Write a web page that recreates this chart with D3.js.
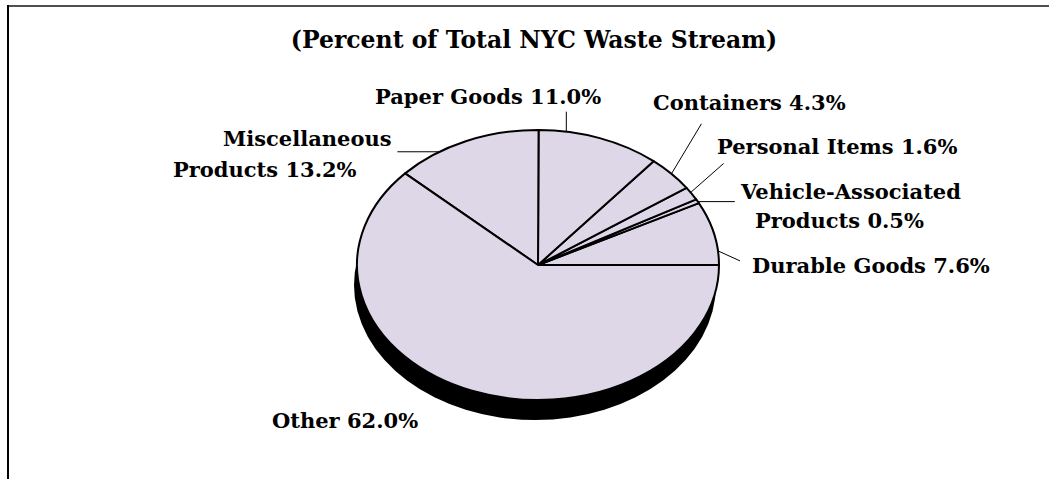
<!DOCTYPE html>
<html>
<head>
<meta charset="utf-8">
<script src="https://cdn.jsdelivr.net/npm/d3@7"></script>
<style>
  body { margin: 0; background: #fff; }
  text { font-family: "DejaVu Serif", serif; font-weight: bold; fill: #000; }
</style>
</head>
<body>
<div id="chart"></div>
<script>
var width = 1049, height = 479;

// slices, counter-clockwise from 3 o'clock
var categories = ["Durable Goods", "Vehicle-Associated Products", "Personal Items",
                  "Containers", "Paper Goods", "Miscellaneous Products", "Other"];
var shares = [7.6, 0.5, 1.6, 4.3, 11.0, 13.2, 62.0];
var labelLines = [["Durable Goods 7.6%"], ["Vehicle-Associated", "Products 0.5%"],
                  ["Personal Items 1.6%"], ["Containers 4.3%"], ["Paper Goods 11.0%"],
                  ["Miscellaneous", "Products 13.2%"], ["Other 62.0%"]];
var title = "(Percent of Total NYC Waste Stream)";

// label placement: where the leader touches the rim (deg), leader vector, text lines
var leaderAngle = [6, 28, 32.5, 42.5, 81, 123, null];
var leaderVec = [[22, 10], [37, 0], [33, -29], [30, -50], [0, -20], [-42, 0], null];
var labelPos = [[[752, 273]], [[741, 199], [755, 228]], [[717, 154]], [[653, 110]],
                [[375, 104]], [[223, 146], [173, 177]], [[272, 428]]];

var cx = 538, cy = 265, rx = 181, ry = 135, depth = 20;

var svg = d3.select("#chart").append("svg")
  .attr("width", width).attr("height", height);

// frame
svg.append("line").attr("x1", 7).attr("x2", 1049).attr("y1", 6).attr("y2", 6)
  .attr("stroke", "#505050").attr("stroke-width", 2);
svg.append("line").attr("x1", 8).attr("x2", 8).attr("y1", 5).attr("y2", height)
  .attr("stroke", "#000").attr("stroke-width", 2);

svg.append("text")
  .attr("x", 534).attr("y", 48)
  .attr("text-anchor", "middle")
  .style("font-size", "23.5px")
  .text(title);

var data = categories.map(function(c, i) { return {name: c, value: shares[i], i: i}; });

var pie = d3.pie()
  .sort(null)
  .value(function(d) { return d.value; })
  .startAngle(Math.PI / 2)
  .endAngle(Math.PI / 2 - 2 * Math.PI);

var arc = d3.arc().innerRadius(0).outerRadius(rx);

// tilt: circle squashed into an ellipse
var k = ry / rx;

// side wall of the disc
svg.append("ellipse")
  .attr("cx", cx - 3).attr("cy", cy + depth)
  .attr("rx", rx).attr("ry", ry)
  .attr("fill", "#000");

var face = svg.append("g")
  .attr("transform", "translate(" + cx + "," + cy + ") scale(1," + k + ")");

face.selectAll("path")
  .data(pie(data))
  .enter().append("path")
    .attr("d", arc)
    .attr("fill", "#ddd7e8")
    .attr("stroke", "#000")
    .attr("stroke-width", 2)
    .attr("stroke-linejoin", "round")
    .attr("vector-effect", "non-scaling-stroke");

// point on the rim for an angle measured counter-clockwise from 3 o'clock
function rim(deg) {
  var a = deg * Math.PI / 180;
  return [cx + rx * Math.cos(a), cy - ry * Math.sin(a)];
}

data.forEach(function(d, i) {
  if (leaderAngle[i] != null) {
    var p = rim(leaderAngle[i]);
    svg.append("line")
      .attr("x1", p[0]).attr("y1", p[1])
      .attr("x2", p[0] + leaderVec[i][0]).attr("y2", p[1] + leaderVec[i][1])
      .attr("stroke", "#000").attr("stroke-width", 1);
  }
  labelLines[i].forEach(function(line, j) {
    svg.append("text")
      .attr("x", labelPos[i][j][0]).attr("y", labelPos[i][j][1])
      .style("font-size", "21px")
      .text(line);
  });
});
</script>
</body>
</html>
